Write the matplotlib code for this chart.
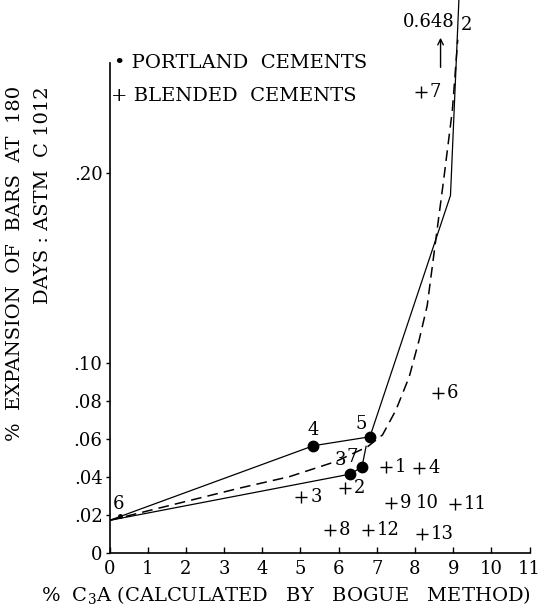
import matplotlib
matplotlib.use("Agg")
from matplotlib import pyplot as plt

plt.rcParams['font.family'] = ['DejaVu Serif']
plt.rcParams['mathtext.default'] = 'regular'

# % C3A vs % expansion at 180 days
# upper solid line (portland cements 6-4-5-2)
upper_x = [0.0, 5.34, 6.82, 8.93, 9.17]
upper_y = [0.017, 0.0563, 0.061, 0.188, 0.30]
# lower solid line (portland cements 6-3-7)
lower_x = [0.0, 6.29, 6.61, 6.72]
lower_y = [0.017, 0.0413, 0.045, 0.056]
# dashed trend curve
dash_x = [0.0, 3.41, 4.71, 5.93, 6.76, 7.15, 7.50, 7.85, 8.11, 8.32, 8.45, 8.58, 8.75, 8.98, 9.12]
dash_y = [0.017, 0.034, 0.040, 0.048, 0.0558, 0.062, 0.075, 0.0926, 0.112, 0.13, 0.15, 0.17, 0.196, 0.233, 0.27]

# portland cements
portland_ids = ['6', '4', '5', '3', '7']
portland_x = [0.27, 5.34, 6.82, 6.29, 6.61]
portland_y = [0.0193, 0.0563, 0.061, 0.0413, 0.045]
portland_2 = '0.648'

# blended cements
blended_ids = ['1', '2', '3', '4', '6', '7', '8', '9', '10', '11', '12', '13']
blended_x = [7.24, 6.17, 5.02, 8.11, 8.60, 8.15, 5.77, 7.37, 8.31, 9.05, 6.76, 8.18]
blended_y = [0.0449, 0.0339, 0.0292, 0.0444, 0.084, 0.2426, 0.0119, 0.0263, 0.0263, 0.0256, 0.0119, 0.0098]
blended_plus = [True, True, True, True, True, True, True, True, False, True, True, True]

yticks = [0, 0.02, 0.04, 0.06, 0.08, 0.10, 0.20]
ytick_labels = ['0', '.02', '.04', '.06', '.08', '.10', '.20']

fig = plt.figure(figsize=(5.49, 6.13), dpi=100)
ax = fig.add_axes([0.1995, 0.0984, 0.765, 0.9016])

ax.plot(upper_x, upper_y, color='black', lw=0.9)
ax.plot(lower_x, lower_y, color='black', lw=0.9)
ax.plot(dash_x, dash_y, color='black', lw=1.1, dashes=(7, 4))

ax.plot(portland_x[1:], portland_y[1:], 'o', color='black', ms=7.5)
ax.plot(portland_x[:1], portland_y[:1], 'o', color='black', ms=2.5)

bx = [x for x, s in zip(blended_x, blended_plus) if s]
by = [y for y, s in zip(blended_y, blended_plus) if s]
ax.plot(bx, by, '+', color='black', ms=8, mew=1.0)

fs = 13
lfs = 14
for i, x, y, s in zip(blended_ids, blended_x, blended_y, blended_plus):
    if s:
        ax.annotate(i, (x, y), xytext=(6.5, 0), textcoords='offset points',
                    ha='left', va='center', fontsize=fs)
    else:
        ax.text(x, y, i, ha='center', va='center', fontsize=fs)

label_offsets = {'6': (-1, 9), '4': (0, 11), '5': (-6.5, 9), '3': (-7, 10), '7': (-7, 7)}
for i, x, y in zip(portland_ids, portland_x, portland_y):
    dx, dy = label_offsets[i]
    ax.annotate(i, (x, y), xytext=(dx, dy), textcoords='offset points',
                ha='center', va='center', fontsize=fs)

# portland 2 goes off the chart
ax.text(9.36, 0.2777, '2', ha='center', va='center', fontsize=fs)
ax.text(9.03, 0.2795, portland_2, ha='right', va='center', fontsize=fs)
ax.annotate('', xy=(8.67, 0.2725), xytext=(8.67, 0.254),
            arrowprops=dict(arrowstyle='->', color='black', lw=1.0))

ax.set_xlim(0, 11)
ax.set_ylim(0, 0.2909)
ax.set_xticks(range(12))
ax.set_yticks(yticks)
ax.set_yticklabels(ytick_labels)
ax.tick_params(axis='x', direction='in', length=4, width=1, labelsize=fs, pad=5)
ax.tick_params(axis='y', direction='out', length=3, width=1, labelsize=fs, pad=2)
for side in ['top', 'right']:
    ax.spines[side].set_visible(False)
ax.spines['left'].set_bounds(0, 0.258)
ax.spines['left'].set_linewidth(1.2)
ax.spines['bottom'].set_linewidth(1.2)

# legend drawn as text
fig.text(114 / 549, 1 - 63 / 613, '\u2022 PORTLAND  CEMENTS', ha='left', va='center', fontsize=lfs)
fig.text(111 / 549, 1 - 96 / 613, '+ BLENDED  CEMENTS', ha='left', va='center', fontsize=lfs)

fig.text(15 / 549, 1 - 86 / 613, '%  EXPANSION  OF  BARS  AT  180', rotation=90,
         ha='center', va='top', fontsize=lfs)
fig.text(43 / 549, 1 - 86 / 613, 'DAYS : ASTM  C 1012', rotation=90,
         ha='center', va='top', fontsize=lfs)
fig.text(286 / 549, 1 - 595 / 613, '%  C$_3$A (CALCULATED   BY   BOGUE   METHOD)',
         ha='center', va='center', fontsize=lfs)

fig.savefig("out.png", dpi=100)
